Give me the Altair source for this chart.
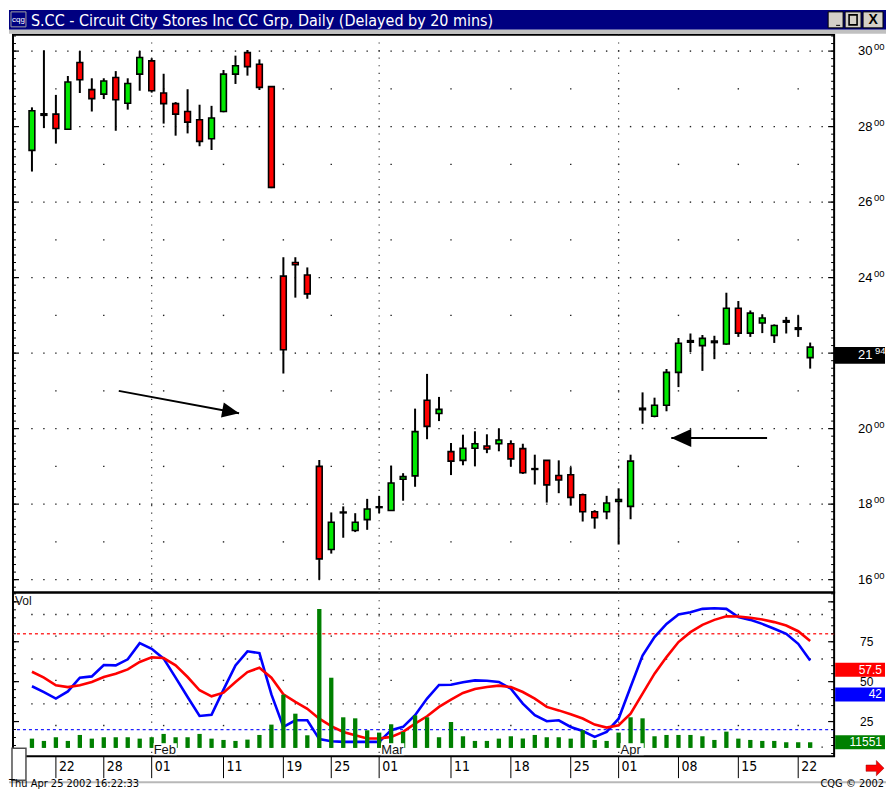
import altair as alt
import pandas as pd

# ---------------- data ----------------
idx = list(range(66))  # trading days Jan 17 .. Apr 23 2002
opens = [27.37, 28.30, 28.33, 27.93, 29.70, 28.98, 28.86, 29.30, 28.62, 29.39,
         29.74, 28.89, 28.61, 28.40, 28.18, 27.68, 28.40, 29.39, 29.96, 29.65,
         29.06, 24.04, 24.40, 24.07, 19.00, 16.80, 17.77, 17.30, 17.59, 17.91,
         17.83, 18.66, 18.75, 20.75, 20.40, 19.39, 19.16, 19.48, 19.54, 19.60,
         19.60, 19.47, 18.92, 19.16, 18.76, 18.78, 18.25, 17.80, 17.80, 18.07,
         17.94, 20.50, 20.33, 20.62, 21.49, 22.29, 22.20, 22.28, 22.24, 23.19,
         22.53, 22.80, 22.47, 22.82, 22.63, 21.88]
highs = [28.51, 30.02, 28.84, 29.34, 30.00, 29.28, 29.28, 29.47, 29.28, 30.00,
         29.81, 29.40, 28.65, 28.99, 28.58, 28.55, 29.50, 29.88, 30.03, 29.78,
         29.06, 24.54, 24.54, 24.27, 19.17, 17.78, 17.94, 17.76, 18.14, 18.22,
         19.02, 18.82, 20.53, 21.45, 20.84, 19.62, 19.84, 19.93, 19.85, 20.00,
         19.69, 19.60, 19.31, 19.17, 19.16, 18.98, 18.28, 17.84, 18.22, 18.42,
         19.31, 20.96, 20.82, 21.58, 22.40, 22.52, 22.48, 22.46, 23.60, 23.38,
         23.13, 23.03, 22.76, 22.96, 23.00, 22.28]
lows = [26.81, 27.96, 27.55, 27.91, 28.89, 28.40, 28.73, 27.89, 28.45, 28.95,
        28.90, 28.08, 27.76, 27.82, 27.48, 27.38, 28.38, 29.13, 29.35, 28.97,
        26.37, 21.46, 23.47, 23.44, 16.00, 16.69, 17.11, 17.26, 17.32, 17.76,
        17.83, 18.09, 18.46, 19.72, 20.20, 18.77, 19.03, 19.00, 19.35, 19.40,
        19.00, 18.80, 18.52, 18.04, 18.29, 17.96, 17.54, 17.35, 17.60, 16.93,
        17.60, 20.13, 20.30, 20.46, 21.10, 22.03, 21.53, 21.84, 22.22, 22.43,
        22.43, 22.53, 22.27, 22.52, 22.43, 21.59]
closes = [28.42, 28.34, 27.95, 29.18, 29.24, 28.74, 29.21, 28.71, 29.14, 29.83,
          28.95, 28.61, 28.33, 28.12, 27.61, 28.23, 29.39, 29.61, 29.59, 29.04,
          26.39, 22.09, 24.34, 23.57, 16.55, 17.52, 17.79, 17.52, 17.87, 17.93,
          18.56, 18.73, 19.92, 20.06, 20.51, 19.14, 19.48, 19.60, 19.46, 19.70,
          19.20, 18.83, 18.94, 18.51, 18.64, 18.18, 17.80, 17.64, 18.03, 18.12,
          19.14, 20.54, 20.62, 21.49, 22.26, 22.33, 22.39, 22.32, 23.19, 22.53,
          23.06, 22.93, 22.73, 22.86, 22.67, 22.16]
volume = [19000, 14300, 21800, 14300, 26500, 19000, 21800, 21800, 21800, 19000,
          21800, 28600, 21800, 21800, 28600, 19000, 16300, 14300, 17000, 26500,
          47600, 108800, 70000, 25800, 284200, 143500, 62600, 60500, 36000, 31300,
          48300, 32600, 66600, 62600, 21800, 53000, 23800, 14300, 14300, 19000,
          23800, 19000, 26500, 21800, 21800, 19000, 36000, 16300, 14300, 31300,
          62600, 60500, 23800, 26500, 26500, 26500, 23800, 16300, 33300, 19000,
          16300, 14300, 14300, 11600, 11600, 11551]
pct_k = [47.1, 43.5, 39.4, 43.9, 52.5, 53.3, 60.4, 60.2, 64.0, 74.1,
         70.6, 64.4, 52.5, 40.4, 28.5, 29.3, 45.0, 60.2, 69.0, 67.9,
         42.0, 21.6, 25.8, 25.8, 14.0, 12.7, 12.3, 12.3, 12.3, 12.3,
         19.6, 21.7, 29.0, 39.4, 47.9, 48.1, 49.6, 50.8, 50.6, 49.8,
         45.6, 36.2, 29.0, 25.2, 25.8, 21.6, 19.1, 15.4, 18.5, 26.8,
         46.6, 66.4, 77.9, 86.2, 92.1, 93.5, 95.6, 96.0, 95.6, 90.4,
         88.7, 86.2, 83.1, 80.0, 73.7, 63.3]
pct_d = [56.2, 52.5, 47.7, 46.6, 47.7, 49.8, 52.9, 55.0, 57.7, 62.3,
         65.2, 64.8, 60.2, 52.9, 44.6, 40.8, 43.1, 49.8, 56.0, 58.7,
         52.5, 42.1, 37.3, 33.0, 26.8, 22.1, 18.5, 16.4, 14.4, 14.4,
         15.4, 18.5, 23.7, 28.3, 34.2, 38.7, 42.9, 45.4, 46.6, 47.5,
         46.6, 43.5, 39.4, 34.2, 32.0, 29.6, 26.9, 23.1, 21.2, 22.7,
         30.0, 42.5, 55.0, 65.4, 74.8, 81.0, 85.6, 88.7, 91.0, 90.8,
         90.0, 88.9, 87.3, 85.2, 81.6, 75.4]

tick_idx = [2, 6, 10, 16, 21, 25, 29, 35, 40, 45, 49, 54, 59, 64]
tick_lbl = ["22", "28", "01", "11", "19", "25", "01", "11", "18", "25", "01", "08", "15", "22"]
month_idx = [10, 29, 49]
month_lbl = ["Feb", "Mar", "Apr"]
week_idx = [2, 6, 11, 16, 21, 25, 30, 35, 40, 45, 49, 54, 59, 64]
price_labels = [16, 18, 20, 22, 24, 26, 28, 30]
price_grid_dense = [16, 18, 20, 22, 24, 26, 28, 30]
price_grid_sparse = [17, 19, 21, 23, 25, 27, 29]
osc_labels = [25, 50, 75]
osc_grid_dense = [92.1, 64.2, 36.1, 9.0]
osc_grid_sparse = [78.5, 50.8, 22.5]
overbought, oversold = 80, 20
last_price = 21.94
last_d, last_k, last_vol = 57.5, 42, 11551
arrow_x0 = [7.25, 61.4]
arrow_p0 = [21.00, 19.75]
arrow_x1 = [17.3, 53.4]
arrow_p1 = [20.41, 19.75]
arrow_ang = [10.5, 180]
arrow_sz = [289, 400]

# ---------------- layout ----------------
W, H1, H2 = 823, 559, 164
XDOM = [-19 / 12, (W - 19) / 12]
PDOM = [15.658, 30.431]
ODOM = [3.31, 105.81]
VDOM = [-16930, 317630]
FONT = "Liberation Sans, Arial, sans-serif"
NARROW = "Liberation Sans Narrow, Arial Narrow, DejaVu Sans Condensed, Liberation Sans, sans-serif"

xs = alt.Scale(domain=XDOM, nice=False, zero=False)
ps = alt.Scale(domain=PDOM, nice=False, zero=False)
oscs = alt.Scale(domain=ODOM, nice=False, zero=False)
vs = alt.Scale(domain=VDOM, nice=False, zero=False)

df = pd.DataFrame({"i": idx, "open": opens, "high": highs, "low": lows, "close": closes,
                   "vol": volume, "k": pct_k, "d": pct_d})
one = pd.DataFrame({"z": [0]})


def XI(f="i"):
    return alt.X(f"{f}:Q", scale=xs, axis=None)


def YP(f="p"):
    return alt.Y(f"{f}:Q", scale=ps, axis=None)


def YO(f="v"):
    return alt.Y(f"{f}:Q", scale=oscs, axis=None)


def rect(x1, x2, y1, y2, **kw):
    return alt.Chart(one).mark_rect(**kw).encode(
        x=alt.value(x1), x2=alt.value(x2), y=alt.value(y1), y2=alt.value(y2))


def label(txt, x, y, **kw):
    return alt.Chart(one).mark_text(text=txt, **kw).encode(x=alt.value(x), y=alt.value(y))


# ---------------- price panel ----------------
dots_p = pd.DataFrame([(i, p) for p in price_grid_dense for i in range(0, 67)] +
                      [(i, p) for p in price_grid_sparse for i in week_idx], columns=["i", "p"])
minor_p = pd.DataFrame({"p": [round(15.8 + 0.2 * k, 1) for k in range(74)]})
major_p = pd.DataFrame({"p": price_labels})
months = pd.DataFrame({"i": month_idx, "t": month_lbl})
arrows = pd.DataFrame({"x0": arrow_x0, "p0": arrow_p0, "x1": arrow_x1, "p1": arrow_p1,
                       "ang": arrow_ang, "sz": arrow_sz})
# the label hidden behind the last-price box is not shown in the reference
shown = [v for v in price_labels if abs(v - last_price) > 0.35]
plab = pd.DataFrame({"p": shown, "main": [str(v) for v in shown], "sup": ["00"] * len(shown)})
lp_main, lp_sup = f"{last_price:.2f}".split(".")
lastp = pd.DataFrame({"p": [last_price], "main": [lp_main], "sup": [lp_sup]})

top_layers = [
    rect(-4, 875, -25, -5, color="#000080"),
    rect(-4, 875, -5, -1, color="#c0c0c0"),
    rect(-2, 13, -23, -8, color="#000080", stroke="#a0a0a0", strokeWidth=1),
    label("cqg", 5.5, -15, color="white", fontSize=8, font=FONT, align="center", baseline="middle"),
    label("S.CC - Circuit City Stores Inc CC Grp, Daily (Delayed by 20 mins)", 18, -9,
          color="white", fontSize=16, font=NARROW, align="left", baseline="alphabetic"),
    rect(817, 832, -23, -7, color="#d4d0c8", stroke="black", strokeWidth=1),
    rect(834, 850, -23, -7, color="#d4d0c8", stroke="black", strokeWidth=1),
    rect(852, 872, -23, -7, color="#d4d0c8", stroke="black", strokeWidth=1),
    rect(825, 829, -10, -9, color="black"),
    rect(838, 846, -20, -10, filled=False, stroke="black", strokeWidth=1.6),
    label("X", 862, -15, color="black", fontSize=14, font=FONT, fontWeight="bold",
          align="center", baseline="middle"),
    alt.Chart(dots_p).mark_square(size=2, color="#222", opacity=1).encode(x=XI(), y=YP()),
    alt.Chart(months).mark_rule(color="#333", strokeWidth=1.2, strokeDash=[1.2, 6.4]).encode(x=XI()),
    alt.Chart(minor_p).mark_rule(color="black", strokeWidth=1).encode(y=YP(), x=alt.value(0), x2=alt.value(3)),
    alt.Chart(minor_p).mark_rule(color="black", strokeWidth=1).encode(y=YP(), x=alt.value(W - 3), x2=alt.value(W)),
    alt.Chart(major_p).mark_rule(color="black", strokeWidth=1.2).encode(y=YP(), x=alt.value(0), x2=alt.value(6)),
    alt.Chart(major_p).mark_rule(color="black", strokeWidth=1.2).encode(y=YP(), x=alt.value(W - 6), x2=alt.value(W)),
    alt.Chart(df).mark_rule(color="black", strokeWidth=2).encode(x=XI(), y=YP("low"), y2="high:Q"),
    alt.Chart(df).transform_calculate(x1="datum.i - 0.24", x2="datum.i + 0.24").mark_bar(
        stroke="black", strokeWidth=1.6).encode(
        x=XI("x1"), x2="x2:Q", y=YP("open"), y2="close:Q",
        color=alt.condition("datum.close >= datum.open", alt.value("#00e800"), alt.value("#ff0000"))),
    alt.Chart(arrows).mark_rule(color="black", strokeWidth=2).encode(
        x=XI("x0"), x2="x1:Q", y=YP("p0"), y2="p1:Q"),
    alt.Chart(arrows).mark_point(shape="M0,0L-2,-0.9L-2,0.9Z", filled=True, color="black", opacity=1).encode(
        x=XI("x1"), y=YP("p1"), angle=alt.Angle("ang:Q", scale=None), size=alt.Size("sz:Q", scale=None)),
    alt.Chart(plab).mark_text(align="left", baseline="middle", fontSize=13, font=FONT, color="black").encode(
        x=alt.value(847), y=YP(), text="main:N"),
    alt.Chart(plab).mark_text(align="left", baseline="middle", fontSize=9.5, dy=-4, font=FONT, color="black").encode(
        x=alt.value(863), y=YP(), text="sup:N"),
    alt.Chart(lastp).mark_point(shape="M0,-1H-5.9V1H0Z", filled=True, color="black", size=289, opacity=1).encode(
        x=alt.value(874), y=YP()),
    alt.Chart(lastp).mark_text(align="left", baseline="middle", fontSize=13, font=FONT, color="white").encode(
        x=alt.value(847), y=YP(), text="main:N"),
    alt.Chart(lastp).mark_text(align="left", baseline="middle", fontSize=9.5, dy=-4, font=FONT, color="white").encode(
        x=alt.value(864), y=YP(), text="sup:N"),
]
top = alt.layer(*top_layers).properties(width=W, height=H1)

# ---------------- oscillator / volume panel ----------------
dots_o = pd.DataFrame([(i, v) for v in osc_grid_dense for i in range(0, 67)] +
                      [(i, v) for v in osc_grid_sparse for i in week_idx], columns=["i", "v"])
minor_o = pd.DataFrame({"v": [5 * k for k in range(1, 22)]})
major_o = pd.DataFrame({"v": osc_labels + [100]})
olab = pd.DataFrame({"v": osc_labels, "t": [str(v) for v in osc_labels]})
ticks = pd.DataFrame({"i": tick_idx, "t": tick_lbl})
dbox = pd.DataFrame({"v": [last_d], "t": [f"{last_d}"]})
kbox = pd.DataFrame({"v": [last_k], "t": [f"{last_k}"]})
vbox = pd.DataFrame({"vol": [last_vol], "t": [f"{last_vol}"]})
BOX = "M0,-1H-7.14V1H0Z"

bot_layers = [
    alt.Chart(dots_o).mark_square(size=2, color="#222", opacity=1).encode(x=XI(), y=YO()),
    alt.Chart(months).mark_rule(color="#333", strokeWidth=1.2, strokeDash=[1.2, 6.4]).encode(x=XI()),
    alt.Chart(pd.DataFrame({"v": [overbought]})).mark_rule(color="#ff3030", strokeWidth=1.3, strokeDash=[3, 3]).encode(y=YO()),
    alt.Chart(pd.DataFrame({"v": [oversold]})).mark_rule(color="#2020ff", strokeWidth=1.3, strokeDash=[3, 3]).encode(y=YO()),
    alt.Chart(minor_o).mark_rule(color="black", strokeWidth=1).encode(y=YO(), x=alt.value(0), x2=alt.value(3)),
    alt.Chart(minor_o).mark_rule(color="black", strokeWidth=1).encode(y=YO(), x=alt.value(W - 3), x2=alt.value(W)),
    alt.Chart(major_o).mark_rule(color="black", strokeWidth=1.2).encode(y=YO(), x=alt.value(0), x2=alt.value(6)),
    alt.Chart(major_o).mark_rule(color="black", strokeWidth=1.2).encode(y=YO(), x=alt.value(W - 6), x2=alt.value(W)),
    alt.Chart(df).mark_line(color="#0000ff", strokeWidth=2.6).encode(x=XI(), y=YO("k")),
    alt.Chart(df).mark_line(color="#ff0000", strokeWidth=2.6).encode(x=XI(), y=YO("d")),
    alt.Chart(df).transform_calculate(x1="datum.i - 0.18", x2="datum.i + 0.18").mark_bar(color="#008000").encode(
        x=XI("x1"), x2="x2:Q", y=alt.Y("vol:Q", scale=vs, axis=None), y2=alt.datum(0)),
    alt.Chart(months).transform_calculate(a="datum.i + 0.15", b="datum.i + 2.1").mark_rect(color="white").encode(
        x=XI("a"), x2="b:Q", y=alt.value(151), y2=alt.value(163)),
    alt.Chart(months).mark_text(align="left", baseline="alphabetic", dx=2, fontSize=13, font=FONT, color="#111").encode(
        x=XI(), y=alt.value(162), text="t:N"),
    label("Vol", 2, 3, align="left", baseline="top", fontSize=12, font=FONT, color="#111"),
    alt.Chart(olab).mark_text(align="left", baseline="middle", fontSize=12, font=FONT, color="black").encode(
        x=alt.value(849), y=YO(), text="t:N"),
    alt.Chart(dbox).mark_point(shape=BOX, filled=True, color="#ff0000", size=196, opacity=1).encode(x=alt.value(874), y=YO()),
    alt.Chart(dbox).mark_text(align="right", baseline="middle", fontSize=12, font=FONT, color="white").encode(
        x=alt.value(871), y=YO(), text="t:N"),
    alt.Chart(kbox).mark_point(shape=BOX, filled=True, color="#0000ff", size=196, opacity=1).encode(x=alt.value(874), y=YO()),
    alt.Chart(kbox).mark_text(align="right", baseline="middle", fontSize=12, font=FONT, color="white").encode(
        x=alt.value(871), y=YO(), text="t:N"),
    alt.Chart(vbox).mark_point(shape=BOX, filled=True, color="#008000", size=196, opacity=1).encode(
        x=alt.value(874), y=alt.Y("vol:Q", scale=vs, axis=None)),
    alt.Chart(vbox).mark_text(align="right", baseline="middle", fontSize=12, font=FONT, color="white").encode(
        x=alt.value(871), y=alt.Y("vol:Q", scale=vs, axis=None), text="t:N"),
    # date axis row
    alt.Chart(ticks).mark_rule(color="black", strokeWidth=1).encode(x=XI(), y=alt.value(H2), y2=alt.value(H2 + 22)),
    alt.Chart(ticks).mark_text(align="left", baseline="top", dx=3, fontSize=14, font=NARROW, color="black").encode(
        x=XI(), y=alt.value(H2 + 4), text="t:N"),
    rect(-1, 13, 156, 188, color="white", stroke="#505050", strokeWidth=1.5),
    alt.Chart(one).mark_point(shape="M-1,-0.35L0.15,-0.35L0.15,-0.85L1,0L0.15,0.85L0.15,0.35L-1,0.35Z",
                              filled=True, color="#ff0000", size=324, opacity=1, stroke="#900000",
                              strokeWidth=0.5).encode(x=alt.value(864), y=alt.value(176)),
    rect(-4, 875, 189, 191, color="#b8b8b8"),
    label("Thu Apr 25 2002 16:22:33", -4, 194.5, align="left", baseline="alphabetic", fontSize=11, font=NARROW, color="black"),
    label("CQG \u00a9 2002", 873, 194.5, align="right", baseline="alphabetic", fontSize=11, font=NARROW, color="black"),
]
bottom = alt.layer(*bot_layers).resolve_scale(y="independent").properties(width=W, height=H2)

chart = alt.vconcat(top, bottom, spacing=0, bounds="flush").properties(
    padding=0, background="white").configure_view(stroke="black", strokeWidth=2)

chart.save("out.html", embed_options={"renderer": "svg", "actions": False})
